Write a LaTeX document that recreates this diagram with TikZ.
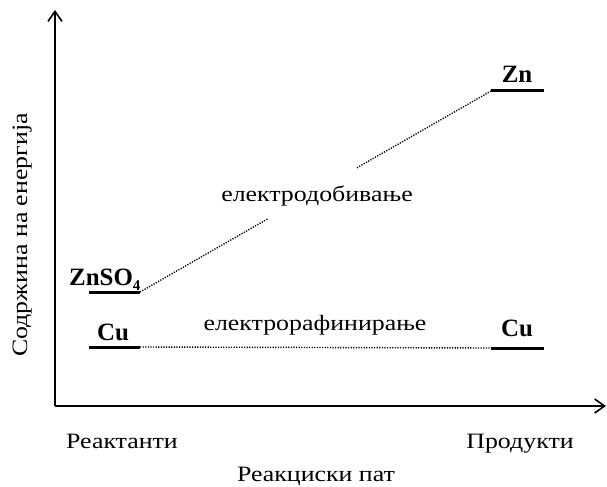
\documentclass[tikz,border=0pt]{standalone}
\usepackage{fontspec}
\setmainfont{Liberation Serif}
\newfontfamily\widefont{Liberation Serif}[FakeStretch=1.18]
\usetikzlibrary{arrows.meta,calc}
\begin{document}
\begin{tikzpicture}[x=1bp,y=-1bp,
  axis/.style={line width=2.4bp, -{Straight Barb[length=10bp,width=14bp,line width=1.6bp]}},
  level/.style={line width=3bp},
  dots/.style={line width=1.4bp, dash pattern=on 1.2bp off 1.4bp},
  lbl/.style={font=\widefont\fontsize{22}{24}\selectfont, inner sep=0},
  chem/.style={font=\fontsize{25}{27}\selectfont\bfseries, inner sep=0}]
\useasboundingbox (0,0) rectangle (607,487);
% axes
\coordinate (O) at (55,406);
\coordinate (ytop) at (55,10);
\coordinate (xend) at (606,406);
\draw[axis] (O) -- (ytop);
\draw[axis] (O) -- (xend);
% levels
\coordinate (znsoL) at (89,292);  \coordinate (znsoR) at (140,292);
\coordinate (cuaL) at (89,347);   \coordinate (cuaR) at (140,347);
\coordinate (cubL) at (491,348);  \coordinate (cubR) at (544,348);
\coordinate (znL) at (491,91);    \coordinate (znR) at (544,91);
\draw[level] (znsoL) -- (znsoR);
\draw[level] (cuaL) -- (cuaR);
\draw[level] (cubL) -- (cubR);
\draw[level] (znL) -- (znR);
% connectors
\coordinate (gapA) at ($(znsoR)!0.365!(znL)$);
\coordinate (gapB) at ($(znsoR)!0.618!(znL)$);
\draw[dots] (znsoR) -- (gapA);
\draw[dots] (gapB) -- (znL);
\draw[dots] (cuaR) -- (cubL);
% labels
\node[chem, anchor=base west] (tznso) at (69,285) {ZnSO\raisebox{-5bp}{\fontsize{15}{15}\selectfont\bfseries 4}};
\node[chem, anchor=base] (tcua) at (113,340) {Cu};
\node[chem, anchor=base] (tcub) at (517,336) {Cu};
\node[chem, anchor=base] (tzn) at (517,83) {Zn};
\node[lbl, anchor=base] (tew) at (317,202) {електродобивање};
\node[lbl, anchor=base] (ter) at (315,330) {електрорафинирање};
\node[lbl, anchor=base] (treact) at (122,448) {Реактанти};
\node[lbl, anchor=base] (tprod) at (520,448) {Продукти};
\node[lbl, anchor=base] (tpath) at (316,481) {Реакциски пат};
\node[lbl, anchor=base, rotate=90] (tenergy) at (27,235) {Содржина на енергија};
\end{tikzpicture}
\end{document}
